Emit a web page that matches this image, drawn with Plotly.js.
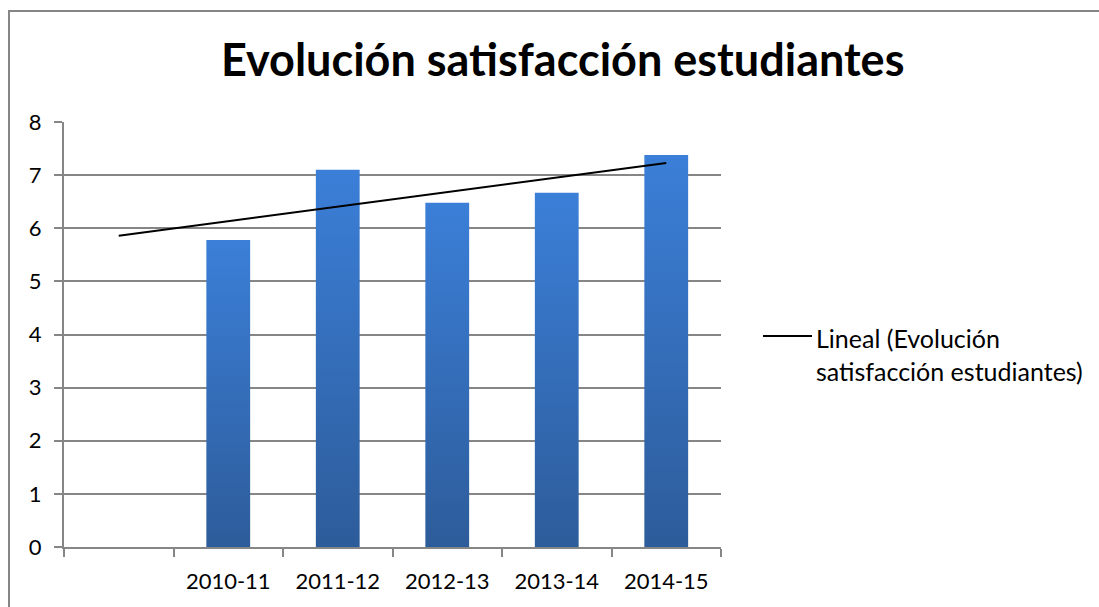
<!DOCTYPE html>
<html>
<head>
<meta charset="utf-8">
<script src="https://cdn.plot.ly/plotly-3.0.1.min.js"></script>
<style>
  body { margin: 0; background: #fff; }
  #chart { width: 1099px; height: 607px; position: absolute; left: 0; top: 0; }
  #frame { position: absolute; left: 8px; top: 10px; width: 1200px; height: 700px;
           border-left: 2px solid #868686; border-top: 2px solid #868686; pointer-events: none; }
</style>
</head>
<body>
<div id="chart"></div>
<div id="frame"></div>
<script>
// first slot of the category axis is empty in the original chart
const categories = ['', '2010-11', '2011-12', '2012-13', '2013-14', '2014-15'];
const seasons = ['2010-11', '2011-12', '2012-13', '2013-14', '2014-15'];
const satisfaction = [5.78, 7.1, 6.48, 6.67, 7.38];
// linear trendline as drawn (start at first slot, end at last slot)
const trendEnds = [5.86, 7.23];
const trendName = 'Lineal (Evolución<br>satisfacción estudiantes)';

const pos = c => categories.indexOf(c) + 1;
const barX = seasons.map(pos);
const trendX = [1, categories.length];
const bounds = categories.map((c, i) => i + 0.5).concat([categories.length + 0.5]);

const font = 'Lato, Calibri, "Open Sans", sans-serif';

const bars = {
    type: 'bar',
    x: barX,
    y: satisfaction,
    marker: { color: '#3570bf' },
    width: 0.4,
    showlegend: false,
    hoverinfo: 'y'
};

const trend = {
    type: 'scatter',
    mode: 'lines',
    x: trendX,
    y: trendEnds,
    name: trendName,
    showlegend: false,
    line: { color: '#000', width: 2 }
};

const layout = {
    width: 1099,
    height: 607,
    margin: { l: 64, r: 378, t: 122, b: 60 },
    paper_bgcolor: '#fff',
    plot_bgcolor: '#fff',
    font: { family: font, size: 22, color: '#000' },
    title: {
        text: '<b>Evolución satisfacción estudiantes</b>',
        font: { family: font, size: 45, color: '#000' },
        x: 0.512, xanchor: 'center', y: 0.9, yanchor: 'middle'
    },
    xaxis: {
        range: [0.5, categories.length + 0.5],
        tickmode: 'array',
        tickvals: categories.map((c, i) => i + 1),
        ticktext: categories,
        ticks: '',
        ticklabelstandoff: 14,
        showgrid: false,
        zeroline: false,
        showline: true,
        linecolor: '#868686',
        linewidth: 2,
        minor: { tickmode: 'array', tickvals: bounds, ticks: 'outside', ticklen: 8, tickcolor: '#868686', tickwidth: 2, showgrid: false },
        fixedrange: true
    },
    yaxis: {
        range: [0, 8],
        dtick: 1,
        showgrid: true,
        gridcolor: '#868686',
        gridwidth: 2,
        zeroline: false,
        showline: true,
        linecolor: '#868686',
        linewidth: 2,
        ticks: 'outside',
        ticklen: 8,
        tickcolor: '#868686',
        tickwidth: 2,
        ticklabelstandoff: 8,
        fixedrange: true
    },
    // legend for the trendline, laid out like the Excel one
    shapes: [{
        type: 'line', xref: 'paper', yref: 'paper',
        x0: (763 - 64) / 657, x1: (812 - 64) / 657,
        y0: (547 - 336) / 425, y1: (547 - 336) / 425,
        line: { color: '#000', width: 2 }
    }],
    annotations: [{
        xref: 'paper', yref: 'paper',
        x: (814 - 64) / 657, xanchor: 'left',
        y: (547 - 354) / 425, yanchor: 'middle',
        align: 'left',
        showarrow: false,
        text: trendName,
        font: { family: font, size: 25, color: '#000' }
    }],
    showlegend: false
};

Plotly.newPlot('chart', [bars, trend], layout, { displayModeBar: false, staticPlot: true }).then(gd => {
    // Excel-style vertical gradient on the bars
    const svg = gd.querySelector('svg.main-svg');
    const ns = 'http://www.w3.org/2000/svg';
    let defs = svg.querySelector('defs');
    if (!defs) { defs = document.createElementNS(ns, 'defs'); svg.insertBefore(defs, svg.firstChild); }
    const grad = document.createElementNS(ns, 'linearGradient');
    grad.setAttribute('id', 'barGrad');
    grad.setAttribute('x1', '0'); grad.setAttribute('y1', '0');
    grad.setAttribute('x2', '0'); grad.setAttribute('y2', '1');
    [['0', '#3b7fd8'], ['1', '#2d5c9a']].forEach(s => {
        const stop = document.createElementNS(ns, 'stop');
        stop.setAttribute('offset', s[0]);
        stop.setAttribute('stop-color', s[1]);
        grad.appendChild(stop);
    });
    defs.appendChild(grad);
    gd.querySelectorAll('.barlayer .point path').forEach(p => { p.style.fill = 'url(#barGrad)'; });
});
</script>
</body>
</html>
